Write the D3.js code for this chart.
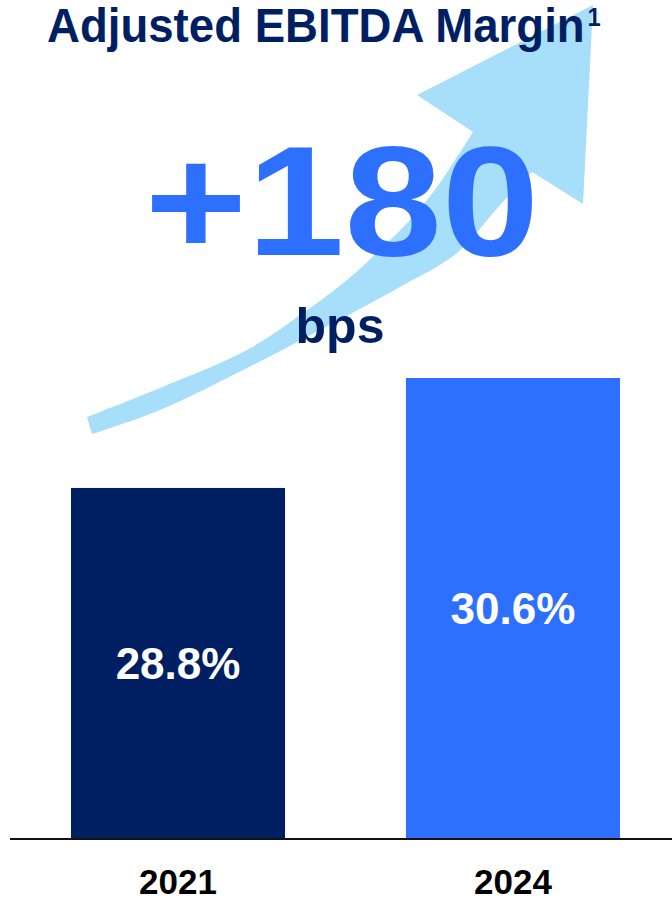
<!DOCTYPE html>
<html>
<head>
<meta charset="utf-8">
<script src="https://cdn.jsdelivr.net/npm/d3@7"></script>
<style>
  html, body { margin: 0; padding: 0; background: #fff; }
  svg { display: block; font-family: "Liberation Sans", Arial, sans-serif; }
</style>
</head>
<body>
<div id="chart"></div>
<script>
// Data
const years = ['2021', '2024'];
const margins = [28.8, 30.6];
const barColors = ['#001F63', '#2D6FFF'];
const titleText = 'Adjusted EBITDA Margin';
const titleNote = '1';
const changeText = '+180';
const changeUnit = 'bps';

const W = 672, H = 902;
const navy = '#001F63';
const arrowBlue = '#A7DFFB';

const svg = d3.select('#chart')
    .append('svg')
    .attr('width', W)
    .attr('height', H);

// Scales: band for the two years, linear (non-zero floor) for margin
const x = d3.scaleBand()
    .domain(years)
    .range([71, 620])
    .paddingInner(0.361)
    .paddingOuter(0);

const baseY = 838;
const y = d3.scaleLinear()
    .domain([23.07, 30.6])
    .range([baseY, 378]);

const bars = years.map((yr, i) => ({ year: yr, value: margins[i], color: barColors[i] }));

// Decorative growth arrow (drawn behind the text)
const upperEdge = [[87, 417], [160, 388], [247, 350], [303, 313], [347, 280],
    [380, 250], [410, 220], [437, 187], [457, 157], [473, 132]];
const lowerEdge = [[532, 172], [500, 205], [457, 253], [400, 287], [320, 330],
    [247, 368], [160, 410], [92, 434]];
const head = [[417, 95], [593, 5], [583, 204]];

const curve = d3.line().curve(d3.curveCatmullRom.alpha(0.5));
const upperPath = curve(upperEdge);
const lowerPath = curve(lowerEdge);
const arrowPath = upperPath
    + head.map(p => 'L' + p[0] + ',' + p[1]).join('')
    + 'L' + lowerPath.slice(1)
    + 'Z';

svg.append('path')
    .attr('d', arrowPath)
    .attr('fill', arrowBlue);

// Title (slightly condensed, like the slide font)
const title = svg.append('text')
    .attr('transform', 'translate(47,42) scale(0.95,1)')
    .attr('fill', navy)
    .style('font-size', '48px')
    .style('font-weight', 'bold');
title.append('tspan').text(titleText);
title.append('tspan')
    .attr('dy', -16)
    .attr('dx', 3)
    .style('font-size', '25px')
    .text(titleNote);

// Big change figure
svg.append('text')
    .attr('transform', 'translate(342,255) scale(1.13,1)')
    .attr('text-anchor', 'middle')
    .attr('fill', '#2D6FFF')
    .style('font-size', '155px')
    .style('font-weight', 'bold')
    .text(changeText);

svg.append('text')
    .attr('x', 340)
    .attr('y', 343)
    .attr('text-anchor', 'middle')
    .attr('fill', navy)
    .style('font-size', '50px')
    .style('font-weight', 'bold')
    .text(changeUnit);

// Bars
svg.selectAll('.bar')
    .data(bars)
    .enter()
    .append('rect')
    .attr('class', 'bar')
    .attr('x', d => x(d.year))
    .attr('y', d => y(d.value))
    .attr('width', x.bandwidth())
    .attr('height', d => baseY - y(d.value))
    .attr('fill', d => d.color);

// Value labels, centred in each bar
svg.selectAll('.val')
    .data(bars)
    .enter()
    .append('text')
    .attr('class', 'val')
    .attr('x', d => x(d.year) + x.bandwidth() / 2)
    .attr('y', d => (y(d.value) + baseY) / 2 + 16)
    .attr('text-anchor', 'middle')
    .attr('fill', '#fff')
    .style('font-size', '44px')
    .style('font-weight', 'bold')
    .text(d => d.value.toFixed(1) + '%');

// Baseline + year axis
const xAxis = d3.axisBottom(x).tickSize(0).tickPadding(0);
const axisG = svg.append('g')
    .attr('transform', `translate(0,${baseY})`)
    .call(xAxis);
axisG.select('.domain').remove();
axisG.selectAll('text')
    .attr('y', 56)
    .attr('dy', null)
    .attr('fill', '#000')
    .style('font-size', '35px')
    .style('font-weight', 'bold')
    .style('font-family', '"Liberation Sans", Arial, sans-serif');

svg.append('line')
    .attr('x1', 10)
    .attr('x2', W)
    .attr('y1', baseY + 1)
    .attr('y2', baseY + 1)
    .attr('stroke', '#111')
    .attr('stroke-width', 2);
</script>
</body>
</html>
